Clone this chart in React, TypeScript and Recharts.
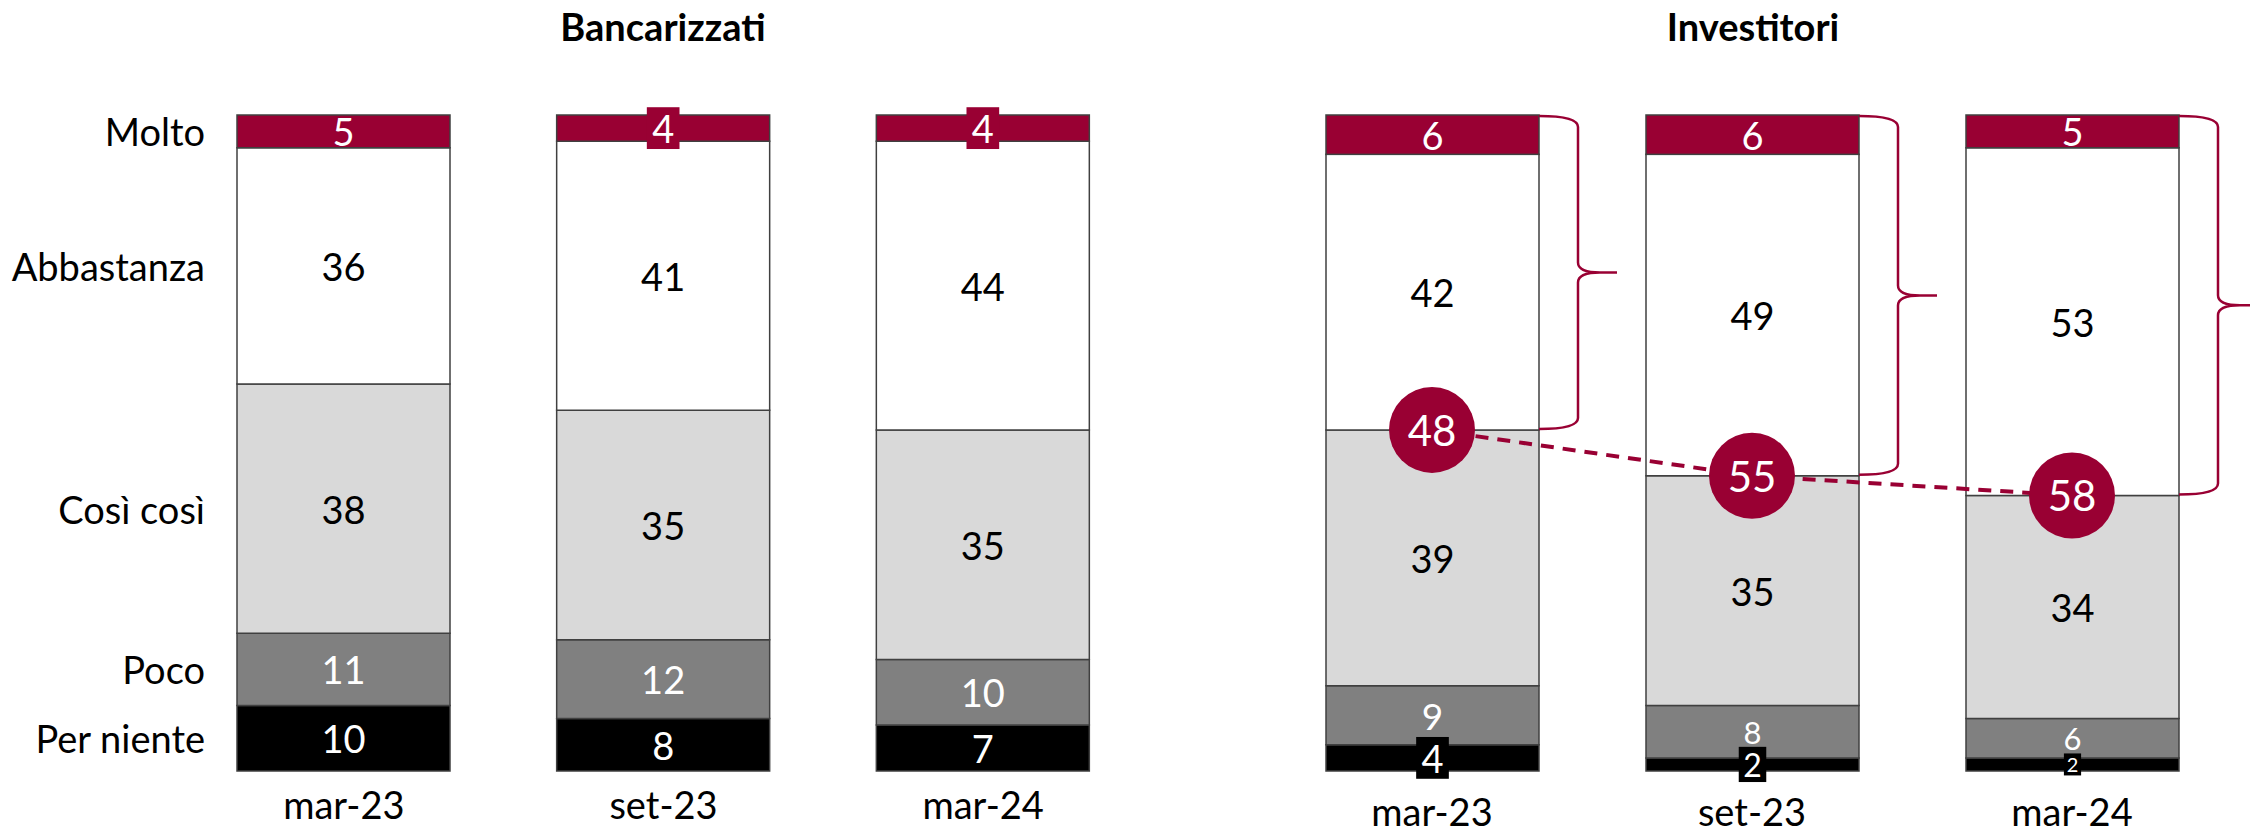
import React from 'react'
import { BarChart, ComposedChart, Bar, Line, XAxis, YAxis, LabelList } from 'recharts'

const categories = ['mar-23', 'set-23', 'mar-24']

// Bancarizzati (%)
const bancMolto = [5, 4, 4]
const bancAbbastanza = [36, 41, 44]
const bancCosi = [38, 35, 35]
const bancPoco = [11, 12, 10]
const bancNiente = [10, 8, 7]

// Investitori (%)
const invMolto = [6, 6, 5]
const invAbbastanza = [42, 49, 53]
const invCosi = [39, 35, 34]
const invPoco = [9, 8, 6]
const invNiente = [4, 2, 2]
const invTop2 = [48, 55, 58]

const FONT = 'Lato, "Noto Sans", sans-serif'
const CRIMSON = '#990033'
const EDGE = '#404040'

const series = [
  { key: 'niente', name: 'Per niente', fill: '#000000', text: '#ffffff' },
  { key: 'poco', name: 'Poco', fill: '#808080', text: '#ffffff' },
  { key: 'cosi', name: 'Così così', fill: '#d9d9d9', text: '#000000' },
  { key: 'abbastanza', name: 'Abbastanza', fill: '#ffffff', text: '#000000' },
  { key: 'molto', name: 'Molto', fill: CRIMSON, text: '#ffffff' },
]

const bancData = categories.map((c, i) => ({
  cat: c,
  niente: bancNiente[i],
  poco: bancPoco[i],
  cosi: bancCosi[i],
  abbastanza: bancAbbastanza[i],
  molto: bancMolto[i],
}))

const invData = categories.map((c, i) => ({
  cat: c,
  niente: invNiente[i],
  poco: invPoco[i],
  cosi: invCosi[i],
  abbastanza: invAbbastanza[i],
  molto: invMolto[i],
  top2: invTop2[i],
}))

// label sizes that shrink on the thin investitori segments
const invFontSizes: Record<string, number[]> = {
  poco: [37, 31, 31],
  niente: [38, 32, 20],
}

type S = typeof series[number]

const makeLabel = (s: S, sizes: Record<string, number[]>, showNames: boolean) => (props: any) => {
  const vb = props.viewBox ?? props
  const x = Number(vb.x), y = Number(vb.y), width = Number(vb.width), height = Number(vb.height)
  const index = props.index
  const fs = sizes[s.key]?.[index] ?? 38
  const cx = x + width / 2
  const cy = y + height / 2
  const boxed = Math.abs(height) < fs * 0.8
  const bw = fs * 0.86
  const bh = fs * 1.1
  return (
    <g>
      {boxed && <rect x={cx - bw / 2} y={cy - bh / 2} width={bw} height={bh} fill={s.fill} />}
      <text x={cx} y={cy} textAnchor="middle" dominantBaseline="central" fill={s.text} fontSize={fs} fontFamily={FONT}>
        {props.value}
      </text>
      {showNames && index === 0 && (
        <text x={x - 32} y={cy} textAnchor="end" dominantBaseline="central" fill="#000" fontSize={38} fontFamily={FONT}>
          {s.name}
        </text>
      )}
    </g>
  )
}

// Molto segment plus the curly brace that spans Molto + Abbastanza
const MoltoWithBrace = (props: any) => {
  const { x, y, width, height, payload } = props
  const bottom = y + (height * (payload.molto + payload.abbastanza)) / payload.molto
  const x0 = x + width
  const x1 = x0 + 39
  const x2 = x0 + 78
  const ym = (y + bottom) / 2
  const d = [
    `M${x0},${y + 1}`,
    `Q${x1},${y + 1} ${x1},${y + 12}`,
    `L${x1},${ym - 10}`,
    `Q${x1},${ym} ${x1 + 22},${ym}`,
    `L${x2},${ym}`,
    `M${x1 + 22},${ym}`,
    `Q${x1},${ym} ${x1},${ym + 10}`,
    `L${x1},${bottom - 12}`,
    `Q${x1},${bottom - 1} ${x0},${bottom - 1}`,
  ].join(' ')
  return (
    <g>
      <rect x={x} y={y} width={width} height={height} fill={CRIMSON} stroke={EDGE} strokeWidth={1.5} />
      <path d={d} fill="none" stroke={CRIMSON} strokeWidth={2.5} />
    </g>
  )
}

const Bubble = (props: any) => {
  const { cx, cy, payload, index } = props
  return (
    <g key={`b-${index}`}>
      <circle cx={cx} cy={cy} r={43} fill={CRIMSON} />
      <text x={cx} y={cy} textAnchor="middle" dominantBaseline="central" fill="#fff" fontSize={42} fontFamily={FONT}>
        {payload.top2}
      </text>
    </g>
  )
}

const makeTick = (offset: number) => (props: any) => {
  const { x, y, payload } = props
  return (
    <text x={x} y={y + offset} textAnchor="middle" dominantBaseline="central" fill="#000" fontSize={38} fontFamily={FONT}>
      {payload.value}
    </text>
  )
}

const titleStyle: React.CSSProperties = {
  position: 'absolute',
  top: 7,
  height: 38,
  lineHeight: '38px',
  fontFamily: FONT,
  fontWeight: 700,
  fontSize: 38,
  textAlign: 'center',
  color: '#000',
}

export default function App() {
  return (
    <div style={{ position: 'absolute', left: 0, top: 0, width: 2250, height: 830, background: '#fff', overflow: 'hidden' }}>
      <div style={{ ...titleStyle, left: 463, width: 400 }}>Bancarizzati</div>
      <div style={{ ...titleStyle, left: 1553, width: 400 }}>Investitori</div>

      <div style={{ position: 'absolute', left: 0, top: 0 }}>
        <BarChart width={1150} height={830} data={bancData} margin={{ top: 115, right: 7, bottom: 0, left: 184 }} barSize={213}>
          <XAxis dataKey="cat" height={59} axisLine={false} tickLine={false} tickSize={0} tickMargin={0} tick={makeTick(33)} interval={0} />
          <YAxis hide domain={[0, 100]} />
          {series.map(s => (
            <Bar key={s.key} dataKey={s.key} stackId="a" fill={s.fill} stroke={EDGE} strokeWidth={1.5} isAnimationActive={false}>
              <LabelList dataKey={s.key} content={makeLabel(s, {}, true)} />
            </Bar>
          ))}
        </BarChart>
      </div>

      <div style={{ position: 'absolute', left: 1150, top: 0 }}>
        <ComposedChart width={1100} height={830} data={invData} margin={{ top: 115, right: 18, bottom: 0, left: 122 }} barSize={213}>
          <XAxis dataKey="cat" height={59} axisLine={false} tickLine={false} tickSize={0} tickMargin={0} tick={makeTick(40)} interval={0} />
          <YAxis yAxisId="pct" hide domain={[0, 100]} />
          {/* top-2 share is measured down from the top of the bar */}
          <YAxis yAxisId="top" hide domain={[0, 100]} reversed />
          {series.map(s => (
            <Bar
              key={s.key}
              yAxisId="pct"
              dataKey={s.key}
              stackId="a"
              fill={s.fill}
              stroke={EDGE}
              strokeWidth={1.5}
              isAnimationActive={false}
              shape={s.key === 'molto' ? MoltoWithBrace : undefined}
            >
              <LabelList dataKey={s.key} content={makeLabel(s, invFontSizes, false)} />
            </Bar>
          ))}
          <Line
            yAxisId="top"
            dataKey="top2"
            type="linear"
            stroke={CRIMSON}
            strokeWidth={4}
            strokeDasharray="13 9"
            dot={Bubble}
            activeDot={false}
            isAnimationActive={false}
          />
        </ComposedChart>
      </div>
    </div>
  )
}
